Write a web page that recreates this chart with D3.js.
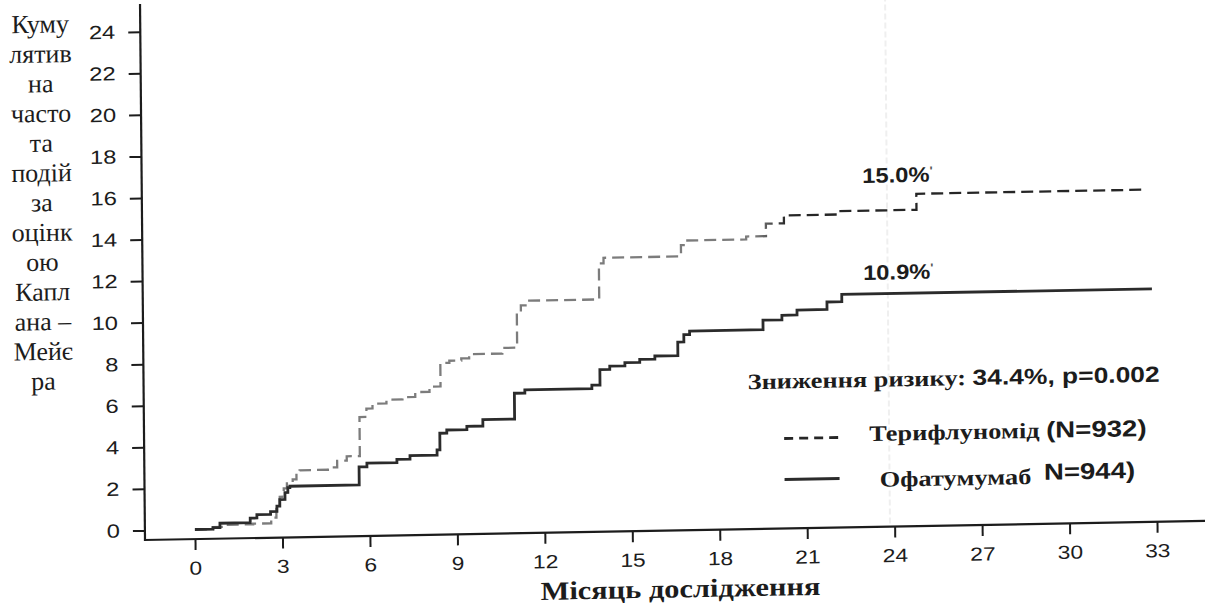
<!DOCTYPE html>
<html>
<head>
<meta charset="utf-8">
<script src="https://cdn.jsdelivr.net/npm/d3@7"></script>
<style>
	body { margin: 0; background: #fff; }
	svg { display: block; }
</style>
</head>
<body>
<div id="chart"></div>
<script>
// Kaplan-Meier step points: month where the step happens, value after the step
var ofaMonths = [0, 0.62, 0.86, 1.9, 2.13, 2.6, 2.82, 2.92, 3.1, 3.2, 3.27, 5.65, 5.92, 6.95, 7.4, 8.33, 8.43, 8.67, 9.36, 9.91,
	11.0, 11.36, 13.66, 13.94, 14.28, 14.8, 15.31, 15.83, 16.62, 16.83, 17.03, 19.55, 20.2, 20.72, 21.75, 22.26, 32.9];
var ofaValues = [0, 0.07, 0.28, 0.5, 0.66, 0.8, 1.05, 1.37, 1.7, 1.93, 2.0, 2.87, 3.04, 3.2, 3.37, 3.62, 4.42, 4.57, 4.73, 5.04,
	6.28, 6.43, 6.6, 7.34, 7.5, 7.66, 7.8, 7.95, 8.6, 8.95, 9.12, 9.58, 9.8, 10.04, 10.4, 10.75, 10.75];

var terMonths = [0, 0.62, 0.96, 2.0, 2.62, 2.8, 2.92, 3.06, 3.17, 3.37, 3.5, 3.61, 4.58, 4.9, 5.23, 5.68, 5.92, 6.13, 6.61, 7.16,
	7.6, 8.09, 8.47, 8.78, 9.19, 9.46, 10.6, 11.11, 11.25, 11.46, 13.94, 14.1, 16.76, 16.93, 19.0, 19.68, 20.3, 22.2, 24.85, 32.76];
var terValues = [0, 0.1, 0.2, 0.23, 0.5, 1.1, 1.5, 1.9, 2.2, 2.33, 2.6, 2.76, 2.87, 3.18, 3.39, 5.27, 5.67, 5.9, 6.08, 6.19,
	6.42, 6.67, 7.8, 7.9, 8.0, 8.2, 8.47, 10.12, 10.5, 10.72, 12.45, 12.72, 13.26, 13.48, 13.62, 14.22, 14.6, 14.76, 15.53, 15.53];

var xTicks = [0, 3, 6, 9, 12, 15, 18, 21, 24, 27, 30, 33];
var yTicks = [0, 2, 4, 6, 8, 10, 12, 14, 16, 18, 20, 22, 24];
var yTitleLines = ["Куму", "лятив", "на", "часто", "та", "подій", "за", "оцінк", "ою", "Капл", "ана –", "Мейє", "ра"];
var xTitle = "Місяць дослідження";
var endLabels = ["15.0%", "10.9%"];

var serif = "'Liberation Serif', 'Times New Roman', serif",
	sans = "'Liberation Sans', Arial, sans-serif",
	ink = "#1c1c1c",
	SX = 1.2;	/*the scan is stretched sideways, most text gets the same stretch*/

var svg = d3.select("#chart").append("svg")
	.attr("width", 1205)
	.attr("height", 605);

// the scanned page is a little tilted, so the whole chart sits in a skewed group
var g = svg.append("g")
	.attr("transform", "translate(145,540) matrix(1,-0.018,0.0093,1,0,0) translate(-145,-540)");

var x = d3.scaleLinear().domain([0, 33]).range([195, 1157]);
var y = d3.scaleLinear().domain([0, 24]).range([530.4, 31.7]);

function place(sel, px, py, sx) {
	return sel.attr("transform", "translate(" + px + "," + py + ") scale(" + (sx || SX) + ",1)");
}

/* dashed line turns from grey to black further right */
var grad = svg.append("defs").append("linearGradient")
	.attr("id", "terGrad")
	.attr("gradientUnits", "userSpaceOnUse")
	.attr("x1", x(19.3)).attr("x2", x(20.4))
	.attr("y1", 0).attr("y2", 0);
grad.append("stop").attr("offset", 0).attr("stop-color", "#7c7c7c");
grad.append("stop").attr("offset", 1).attr("stop-color", "#262626");

// faint fold line of the scan
g.append("line")
	.attr("x1", 890).attr("x2", 890)
	.attr("y1", 0).attr("y2", 538)
	.attr("stroke", "#efefef")
	.attr("stroke-width", 2)
	.attr("stroke-dasharray", "6,3");

// y axis
var yAxis = d3.axisLeft(y).tickValues(yTicks).tickSize(12).tickPadding(13);
g.append("g")
	.attr("transform", "translate(145,0)")
	.call(yAxis)
	.call(function (a) {
		a.select(".domain").remove();
		a.selectAll(".tick line").attr("stroke", ink).attr("stroke-width", 2);
		a.selectAll(".tick text")
			.attr("font-family", sans).attr("font-size", 19).attr("fill", ink)
			.attr("x", -25 / 1.25)
			.attr("transform", "scale(1.25,1)");
	});
g.append("line")
	.attr("x1", 145).attr("x2", 145)
	.attr("y1", 4).attr("y2", 541)
	.attr("stroke", ink).attr("stroke-width", 2.2);

// x axis
var xAxis = d3.axisBottom(x).tickValues(xTicks).tickSize(11).tickPadding(11);
g.append("g")
	.attr("transform", "translate(0,540)")
	.call(xAxis)
	.call(function (a) {
		a.select(".domain").remove();
		a.selectAll(".tick line").attr("stroke", ink).attr("stroke-width", 2);
		a.selectAll(".tick text")
			.attr("font-family", sans).attr("font-size", 19).attr("fill", ink)
			.attr("transform", "scale(1.2,1)");
	});
g.append("line")
	.attr("x1", 144).attr("x2", 1215)
	.attr("y1", 540).attr("y2", 540)
	.attr("stroke", ink).attr("stroke-width", 2.2);

// curves
var line = d3.line()
	.x(function (d) { return x(d[0]); })
	.y(function (d) { return y(d[1]); })
	.curve(d3.curveStepAfter);

g.append("path")
	.datum(d3.zip(terMonths, terValues))
	.attr("d", line)
	.attr("fill", "none")
	.attr("stroke", "url(#terGrad)")
	.attr("stroke-width", 2.3)
	.attr("stroke-dasharray", "12,6");

g.append("path")
	.datum(d3.zip(ofaMonths, ofaValues))
	.attr("d", line)
	.attr("fill", "none")
	.attr("stroke", "#2b2b2b")
	.attr("stroke-width", 2.8);

// end labels
g.selectAll(".endlab")
	.data([[23, 16.1, endLabels[0]], [23, 11.43, endLabels[1]]])
	.enter().append("text")
	.attr("class", "endlab")
	.each(function (d) { place(d3.select(this), x(d[0]), y(d[1]), 1.13); })
	.attr("font-family", sans).attr("font-weight", "bold").attr("font-size", 21)
	.attr("fill", ink)
	.text(function (d) { return d[2]; })
	.append("tspan").attr("dy", -7).attr("font-size", 12).attr("fill", "#555").text("'");

// y title
place(g.append("text"), 45, 0, 1)
	.attr("font-family", serif).attr("font-size", 26).attr("fill", ink)
	.attr("text-anchor", "middle")
	.selectAll("tspan")
	.data(yTitleLines)
	.enter().append("tspan")
	.attr("x", 0)
	.attr("y", function (d, i) { return 31 + i * 29.75; })
	.text(function (d) { return d; });

// x title
place(g.append("text"), 680, 607, 1.17)
	.attr("text-anchor", "middle")
	.attr("font-family", serif).attr("font-weight", "bold").attr("font-size", 26)
	.attr("fill", ink)
	.text(xTitle);

// risk reduction + legend
var risk = place(g.append("text"), 749, 400)
	.attr("font-weight", "bold").attr("fill", ink);
risk.append("tspan").attr("font-family", serif).attr("font-size", 22).text("Зниження ризику: ");
risk.append("tspan").attr("font-family", sans).attr("font-size", 22).text("34.4%, p=0.002");

var legend = [
	{ y: 450, dash: "9,6", color: "#262626", name: "Терифлуномід ", n: "(N=932)", tdy: 4, ndy: 0, ndx: 0, tx: 870 },
	{ y: 491, dash: null, color: "#2b2b2b", name: "Офатумумаб ", n: "N=944)", tdy: 9, ndy: -4, ndx: 5, tx: 880 }
];
var lg = g.selectAll(".lg").data(legend).enter().append("g").attr("class", "lg");
lg.append("line")
	.attr("x1", 785).attr("x2", 840)
	.attr("y1", function (d) { return d.y; }).attr("y2", function (d) { return d.y; })
	.attr("stroke", function (d) { return d.color; })
	.attr("stroke-width", 2.8)
	.attr("stroke-dasharray", function (d) { return d.dash; });
var lt = lg.append("text")
	.each(function (d) { place(d3.select(this), d.tx, d.y + d.tdy); })
	.attr("font-weight", "bold").attr("fill", ink);
lt.append("tspan").attr("font-family", serif).attr("font-size", 22).text(function (d) { return d.name; });
lt.append("tspan").attr("font-family", sans).attr("font-size", 23)
	.attr("dx", function (d) { return d.ndx; })
	.attr("dy", function (d) { return d.ndy; })
	.text(function (d) { return d.n; });
</script>
</body>
</html>
